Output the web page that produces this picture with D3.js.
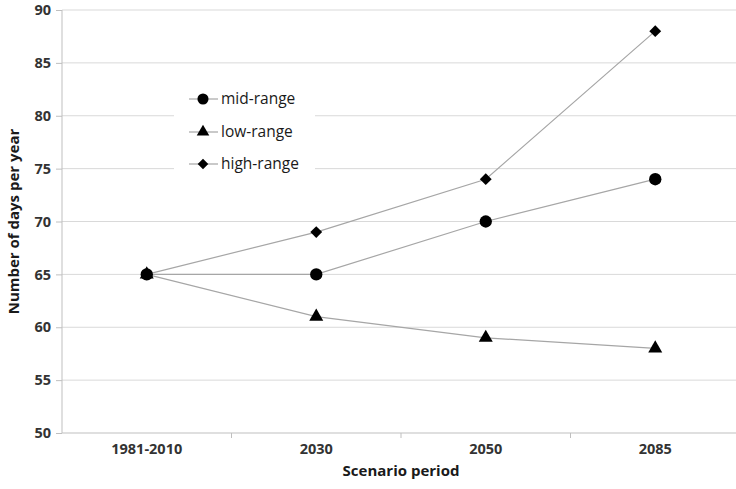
<!DOCTYPE html>
<html><head><meta charset="utf-8">
<script src="https://cdn.jsdelivr.net/npm/d3@7"></script>
<style>body{margin:0;background:#fff}svg{display:block}</style>
</head><body>
<svg id="c" width="736" height="489"></svg>
<script>
const categories = ["1981-2010", "2030", "2050", "2085"];
const midRange = [65, 65, 70, 74];
const lowRange = [65, 61, 59, 58];
const highRange = [65, 69, 74, 88];
const yTicks = [50, 55, 60, 65, 70, 75, 80, 85, 90];
const seriesNames = ["mid-range", "low-range", "high-range"];

const series = [
  {name: seriesNames[0], values: midRange, sym: d3.symbolCircle, size: 120, rot: 0},
  {name: seriesNames[1], values: lowRange, sym: d3.symbolTriangle, size: 85, rot: 0},
  {name: seriesNames[2], values: highRange, sym: d3.symbolSquare, size: 70, rot: 45}
];

const svg = d3.select("#c");
const font = "'Open Sans', sans-serif";
const L = 62, R = 740, T = 10, B = 433;
const x = d3.scaleBand().domain(categories).range([L, R]);
const y = d3.scaleLinear().domain([50, 90]).range([B, T]);

// gridlines
svg.append("g").selectAll("line").data(yTicks.slice(1)).join("line")
  .attr("x1", L).attr("x2", R).attr("y1", d => y(d)).attr("y2", d => y(d))
  .attr("stroke", "#d9d9d9").attr("stroke-width", 1);

// y axis
const ya = svg.append("g").attr("transform", `translate(${L},0)`)
  .call(d3.axisLeft(y).tickValues(yTicks).tickSize(6).tickPadding(5));
ya.select(".domain").attr("stroke", "#bfbfbf").attr("d", `M-0,${B}V${T}`);
ya.selectAll(".tick line").attr("stroke", "#bfbfbf");
ya.selectAll(".tick text").attr("font-family", font).attr("font-size", 14.5)
  .attr("font-weight", "bold").attr("fill", "#333");

// x axis
const xa = svg.append("g").attr("transform", `translate(0,${B})`)
  .call(d3.axisBottom(x).tickSize(0).tickPadding(11));
xa.select(".domain").attr("stroke", "#bfbfbf").attr("d", `M${L},0H${R}`);
xa.selectAll(".tick text").attr("font-family", font).attr("font-size", 14.5)
  .attr("font-weight", "bold").attr("fill", "#333");
// band-boundary ticks
svg.append("g").selectAll("line").data(categories.slice(1)).join("line")
  .attr("x1", d => x(d)).attr("x2", d => x(d)).attr("y1", B).attr("y2", B + 5)
  .attr("stroke", "#bfbfbf");

const cx = d => x(d) + x.bandwidth() / 2;

// legend background (covers gridlines)
svg.append("rect").attr("x", 174).attr("y", 84).attr("width", 141).attr("height", 96)
  .attr("fill", "#fff");

// lines
const line = d3.line().x((d, i) => cx(categories[i])).y(d => y(d));
svg.append("g").selectAll("path").data(series).join("path")
  .attr("d", s => line(s.values)).attr("fill", "none")
  .attr("stroke", "#a6a6a6").attr("stroke-width", 1.2);

// markers
series.forEach(s => {
  svg.append("g").selectAll("path").data(s.values).join("path")
    .attr("d", d3.symbol().type(s.sym).size(s.size))
    .attr("transform", (d, i) => `translate(${cx(categories[i])},${y(d)}) rotate(${s.rot})`)
    .attr("fill", "#000");
});

// legend
const lg = svg.append("g");
const legY = [99, 132, 164];
series.forEach((s, i) => {
  const g = lg.append("g").attr("transform", `translate(0,${legY[i]})`);
  g.append("line").attr("x1", 189).attr("x2", 218).attr("stroke", "#a6a6a6").attr("stroke-width", 1.2);
  g.append("path").attr("d", d3.symbol().type(s.sym).size(s.size * 0.8))
    .attr("transform", `translate(203,0) rotate(${s.rot})`).attr("fill", "#000");
  g.append("text").attr("x", 221).attr("dy", "0.35em").text(s.name)
    .attr("font-family", font).attr("font-size", 15.5).attr("fill", "#1a1a1a");
});

// axis titles
svg.append("text").attr("x", 401).attr("y", 476).attr("text-anchor", "middle")
  .text("Scenario period").attr("font-family", font).attr("font-size", 15)
  .attr("font-weight", "bold").attr("fill", "#1a1a1a");
svg.append("text").attr("transform", `translate(19,${(T + B) / 2}) rotate(-90)`)
  .attr("text-anchor", "middle").text("Number of days per year")
  .attr("font-family", font).attr("font-size", 15)
  .attr("font-weight", "bold").attr("fill", "#1a1a1a");
</script>
</body></html>
